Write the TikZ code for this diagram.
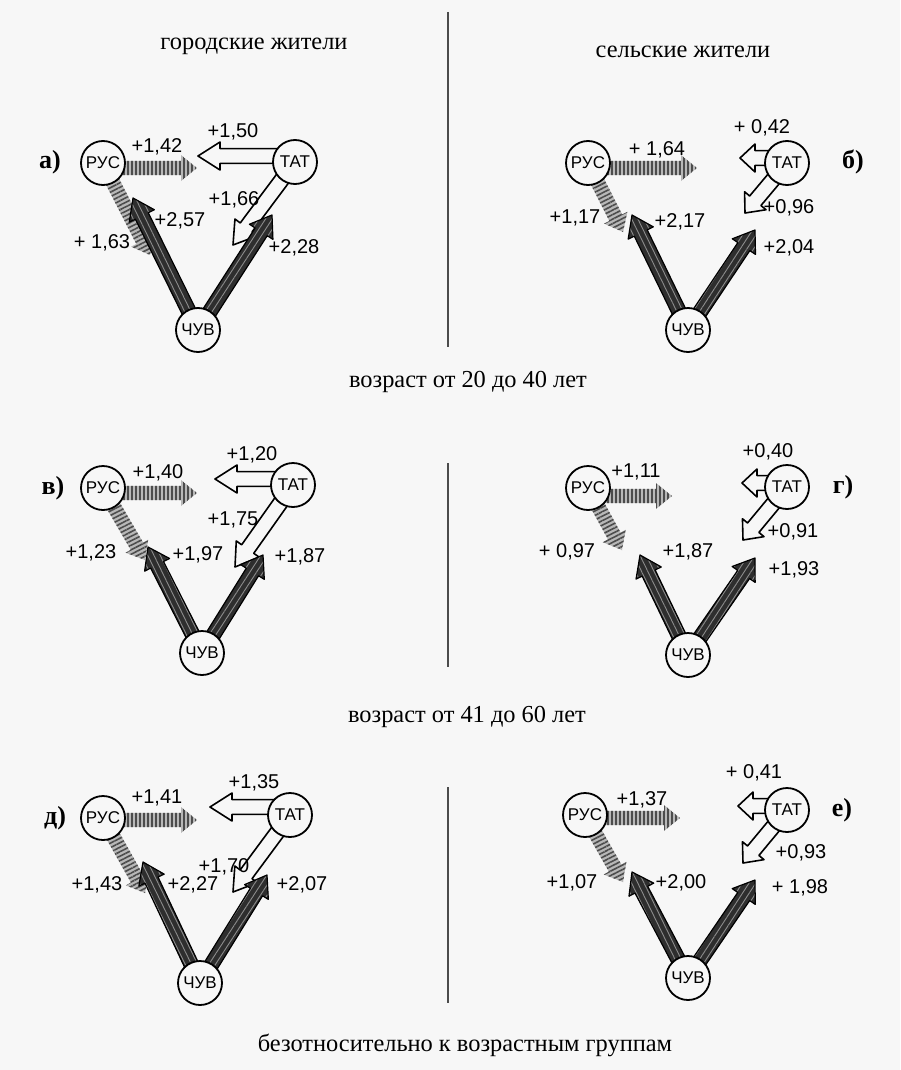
\documentclass[tikz,border=0pt]{standalone}
\usepackage{fontspec}
\setmainfont{Liberation Serif}
\setsansfont{Liberation Sans}
\usetikzlibrary{calc,patterns.meta,backgrounds}

\definecolor{paper}{gray}{0.97}

% block arrow: style, from, tip, shaft half width, head half width, head length
\newcommand{\flow}[6]{%
  \coordinate (fs) at (#2);
  \coordinate (fb) at ($(#3)!#6!(fs)$);
  \path[#1] ($(fs)!#4!90:(#3)$) -- ($(fb)!#4!90:(#3)$) -- ($(fb)!#5!90:(#3)$) -- (#3)
    -- ($(fb)!#5!-90:(#3)$) -- ($(fb)!#4!-90:(#3)$) -- ($(fs)!#4!-90:(#3)$) -- cycle;}
\newcommand{\rusarrow}[3]{\flow{rusflow=#3}{#1}{#2}{3.6pt}{6.5pt}{8pt}}
\newcommand{\tatarrow}[3]{\flow{tatflow}{#1}{#2}{3.7pt}{7pt}{#3}}
\newcommand{\chuvarrow}[3]{\flow{chuvflow=#3}{#1}{#2}{3.6pt}{7pt}{10pt}}

\tikzset{
  town/.style={circle, draw, line width=0.9pt, fill=paper, minimum size=22pt, inner sep=0pt,
    font=\sffamily\fontsize{8.5}{8.5}\selectfont},
  val/.style={font=\sffamily\fontsize{10}{10}\selectfont, inner sep=1pt},
  tag/.style={font=\bfseries\fontsize{13}{13}\selectfont},
  heading/.style={font=\fontsize{12.2}{13}\selectfont},
  divider/.style={draw=black!70, line width=0.8pt},
  rusflow/.style={preaction={fill=black!28}, pattern={Lines[angle=#1,distance=2pt,line width=0.8pt]},
    pattern color=black!70},
  tatflow/.style={fill=paper, draw=black, line width=0.8pt, line join=round},
  chuvflow/.style={preaction={fill=black!82}, pattern={Lines[angle=#1,distance=2.8pt,line width=0.45pt]},
    pattern color=black!45, draw=black, line width=0.6pt, line join=round}
}

\begin{document}
\begin{tikzpicture}[x=0.5pt,y=-0.5pt]
\begin{scope}[on background layer]
\fill[paper] (0,0) rectangle (900,1070);
\end{scope}
\useasboundingbox (0,0) rectangle (900,1070);

% headings and dividers
\node[heading] (urban) at (254,46) {городские жители};
\node[heading] (rural) at (683,52) {сельские жители};
\node[heading] (ageOne) at (468,382) {возраст от 20 до 40 лет};
\node[heading] (ageTwo) at (467,717) {возраст от 41 до 60 лет};
\node[heading] (ageAll) at (465,1045) {безотносительно к возрастным группам};
\draw[divider] (448,12) -- (448,347);
\draw[divider] (448,463) -- (448,667);
\draw[divider] (448,787) -- (448,1003);

% а) urban, 20-40
\node[tag] (tagA) at (50,162) {а)};
\node[town] (rusA) at (103,163) {РУС};
\node[town] (tatA) at (295,162) {ТАТ};
\node[town] (chuvA) at (198,330) {ЧУВ};
\coordinate (rrA) at (197,168);
\coordinate (rdA) at (150,255);
\coordinate (tlA) at (198,156);
\coordinate (tdA) at (233,245);
\coordinate (crA) at (133,198);
\coordinate (ctA) at (272,215);
\begin{scope}[on background layer]
\tatarrow{[yshift=3pt]tatA.center}{tlA}{11pt}
\tatarrow{tatA.center}{tdA}{11pt}
\rusarrow{[yshift=-2.5pt]rusA.center}{rrA}{90}
\rusarrow{rusA.center}{rdA}{27}
\chuvarrow{chuvA.center}{crA}{116}
\chuvarrow{chuvA.center}{ctA}{57}
\end{scope}
\node[val] (vA1) at (157,147) {+1,42};
\node[val] (vA2) at (233,132) {+1,50};
\node[val] (vA3) at (234,200) {+1,66};
\node[val] (vA4) at (180,221) {+2,57};
\node[val] (vA5) at (294,248) {+2,28};
\node[val] (vA6) at (102,243) {+ 1,63};

% б) rural, 20-40
\node[tag] (tagB) at (853,162) {б)};
\node[town] (rusB) at (588,163) {РУС};
\node[town] (tatB) at (787,163) {ТАТ};
\node[town] (chuvB) at (688,330) {ЧУВ};
\coordinate (rrB) at (697,168);
\coordinate (rdB) at (623,232);
\coordinate (tlB) at (740,158);
\coordinate (tdB) at (745,213);
\coordinate (crB) at (632,215);
\coordinate (ctB) at (755,230);
\begin{scope}[on background layer]
\tatarrow{[yshift=2.5pt]tatB.center}{tlB}{7.5pt}
\tatarrow{tatB.center}{tdB}{8pt}
\rusarrow{[yshift=-2.5pt]rusB.center}{rrB}{90}
\rusarrow{rusB.center}{rdB}{27}
\chuvarrow{chuvB.center}{crB}{116}
\chuvarrow{chuvB.center}{ctB}{57}
\end{scope}
\node[val] (vB1) at (657,150) {+ 1,64};
\node[val] (vB2) at (762,128) {+ 0,42};
\node[val] (vB3) at (789,208) {+0,96};
\node[val] (vB4) at (680,222) {+2,17};
\node[val] (vB5) at (789,248) {+2,04};
\node[val] (vB6) at (575,218) {+1,17};

% в) urban, 41-60
\node[tag] (tagC) at (53,488) {в)};
\node[town] (rusC) at (103,488) {РУС};
\node[town] (tatC) at (293,485) {ТАТ};
\node[town] (chuvC) at (202,653) {ЧУВ};
\coordinate (rrC) at (197,493);
\coordinate (rdC) at (145,560);
\coordinate (tlC) at (215,479);
\coordinate (tdC) at (235,567);
\coordinate (crC) at (148,547);
\coordinate (ctC) at (263,555);
\begin{scope}[on background layer]
\tatarrow{[yshift=3pt]tatC.center}{tlC}{11pt}
\tatarrow{tatC.center}{tdC}{11pt}
\rusarrow{[yshift=-2.5pt]rusC.center}{rrC}{90}
\rusarrow{rusC.center}{rdC}{27}
\chuvarrow{chuvC.center}{crC}{116}
\chuvarrow{chuvC.center}{ctC}{57}
\end{scope}
\node[val] (vC1) at (158,473) {+1,40};
\node[val] (vC2) at (252,455) {+1,20};
\node[val] (vC3) at (233,520) {+1,75};
\node[val] (vC4) at (198,555) {+1,97};
\node[val] (vC5) at (300,557) {+1,87};
\node[val] (vC6) at (91,553) {+1,23};

% г) rural, 41-60
\node[tag] (tagD) at (843,487) {г)};
\node[town] (rusD) at (588,488) {РУС};
\node[town] (tatD) at (787,487) {ТАТ};
\node[town] (chuvD) at (688,655) {ЧУВ};
\coordinate (rrD) at (672,496);
\coordinate (rdD) at (622,550);
\coordinate (tlD) at (742,483);
\coordinate (tdD) at (743,540);
\coordinate (crD) at (640,555);
\coordinate (ctD) at (755,558);
\begin{scope}[on background layer]
\tatarrow{[yshift=2pt]tatD.center}{tlD}{7.5pt}
\tatarrow{tatD.center}{tdD}{8pt}
\rusarrow{[yshift=-4pt]rusD.center}{rrD}{90}
\rusarrow{rusD.center}{rdD}{27}
\chuvarrow{chuvD.center}{crD}{116}
\chuvarrow{chuvD.center}{ctD}{57}
\end{scope}
\node[val] (vD1) at (636,472) {+1,11};
\node[val] (vD2) at (768,452) {+0,40};
\node[val] (vD3) at (793,532) {+0,91};
\node[val] (vD4) at (688,552) {+1,87};
\node[val] (vD5) at (794,570) {+1,93};
\node[val] (vD6) at (567,552) {+ 0,97};

% д) urban, all ages
\node[tag] (tagE) at (55,818) {д)};
\node[town] (rusE) at (103,818) {РУС};
\node[town] (tatE) at (290,815) {ТАТ};
\node[town] (chuvE) at (200,983) {ЧУВ};
\coordinate (rrE) at (197,820);
\coordinate (rdE) at (145,893);
\coordinate (tlE) at (210,807);
\coordinate (tdE) at (233,892);
\coordinate (crE) at (143,862);
\coordinate (ctE) at (267,875);
\begin{scope}[on background layer]
\tatarrow{[yshift=4pt]tatE.center}{tlE}{11pt}
\tatarrow{tatE.center}{tdE}{11pt}
\rusarrow{[yshift=-1pt]rusE.center}{rrE}{90}
\rusarrow{rusE.center}{rdE}{27}
\chuvarrow{chuvE.center}{crE}{116}
\chuvarrow{chuvE.center}{ctE}{57}
\end{scope}
\node[val] (vE1) at (157,798) {+1,41};
\node[val] (vE2) at (254,783) {+1,35};
\node[val] (vE3) at (224,867) {+1,70};
\node[val] (vE4) at (193,885) {+2,27};
\node[val] (vE5) at (302,885) {+2,07};
\node[val] (vE6) at (97,885) {+1,43};

% е) rural, all ages
\node[tag] (tagF) at (842,810) {е)};
\node[town] (rusF) at (585,815) {РУС};
\node[town] (tatF) at (787,810) {ТАТ};
\node[town] (chuvF) at (688,978) {ЧУВ};
\coordinate (rrF) at (680,818);
\coordinate (rdF) at (623,882);
\coordinate (tlF) at (738,806);
\coordinate (tdF) at (743,863);
\coordinate (crF) at (632,872);
\coordinate (ctF) at (755,880);
\begin{scope}[on background layer]
\tatarrow{[yshift=2pt]tatF.center}{tlF}{7.5pt}
\tatarrow{tatF.center}{tdF}{8pt}
\rusarrow{[yshift=-1.5pt]rusF.center}{rrF}{90}
\rusarrow{rusF.center}{rdF}{27}
\chuvarrow{chuvF.center}{crF}{116}
\chuvarrow{chuvF.center}{ctF}{57}
\end{scope}
\node[val] (vF1) at (642,800) {+1,37};
\node[val] (vF2) at (754,773) {+ 0,41};
\node[val] (vF3) at (801,853) {+0,93};
\node[val] (vF4) at (681,883) {+2,00};
\node[val] (vF5) at (800,888) {+ 1,98};
\node[val] (vF6) at (572,883) {+1,07};
\end{tikzpicture}
\end{document}
